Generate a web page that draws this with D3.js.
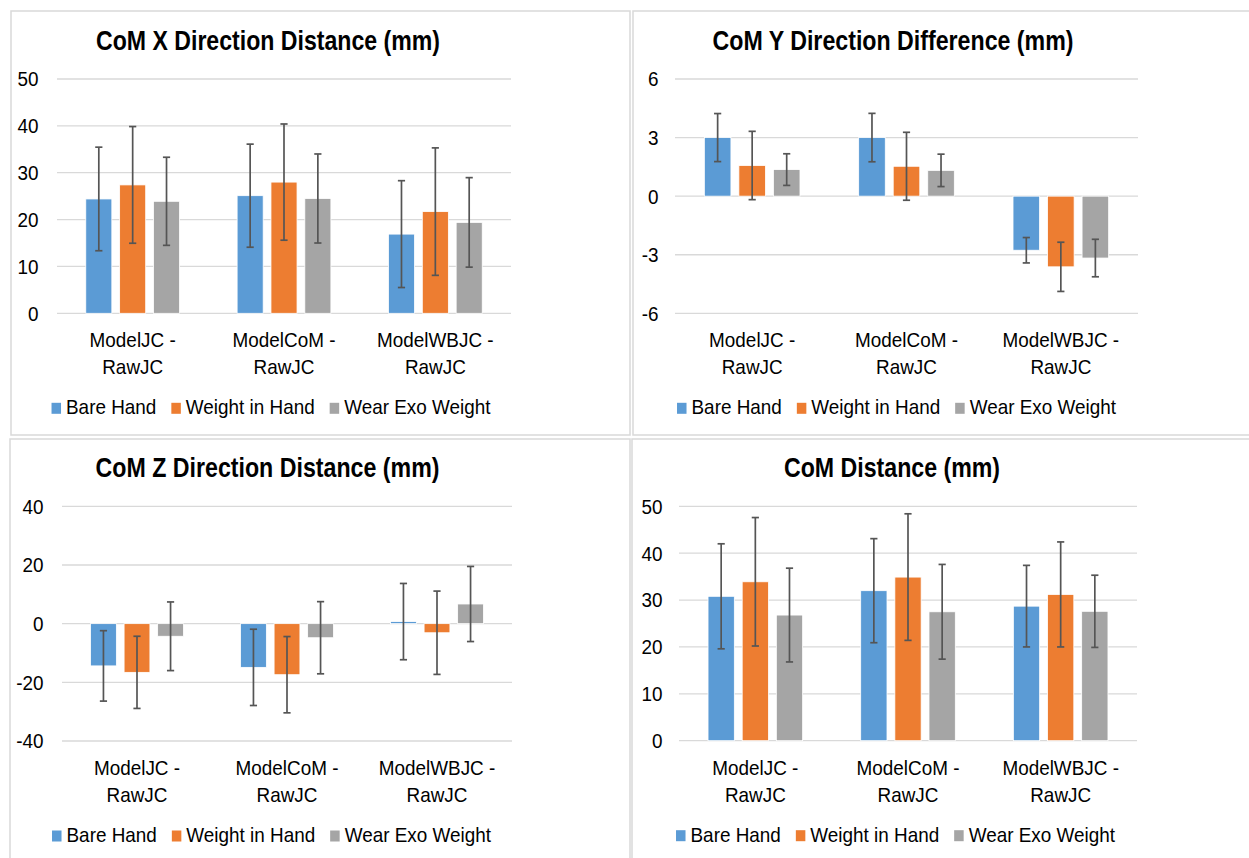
<!DOCTYPE html>
<html>
<head>
<meta charset="utf-8">
<script src="https://cdn.jsdelivr.net/npm/d3@7"></script>
<style>
  body { margin: 0; background: #fff; }
  text { font-family: "Liberation Sans", Arial, sans-serif; }
</style>
</head>
<body>
<svg id="chart" width="1249" height="858"></svg>
<script>
// ---- data ----
const categories = [["ModelJC -", "RawJC"], ["ModelCoM -", "RawJC"], ["ModelWBJC -", "RawJC"]];
const series = ["Bare Hand", "Weight in Hand", "Wear Exo Weight"];
const seriesColors = ["#5B9BD5", "#ED7D31", "#A5A5A5"];

const titles = ["CoM X Direction Distance (mm)", "CoM Y Direction Difference (mm)",
                "CoM Z Direction Distance (mm)", "CoM Distance (mm)"];

// rows = categories, columns = series
const xMeans = [[24.4, 27.4, 23.9], [25.1, 28.0, 24.5], [16.9, 21.7, 19.4]];
const xErrs  = [[11.05, 12.45, 9.4], [11.0, 12.4, 9.5], [11.4, 13.6, 9.55]];
const xTicks = [0, 10, 20, 30, 40, 50];

const yMeans = [[3.0, 1.57, 1.36], [3.0, 1.53, 1.32], [-2.77, -3.62, -3.17]];
const yErrs  = [[1.23, 1.75, 0.81], [1.24, 1.74, 0.83], [0.65, 1.26, 0.96]];
const yTicks = [-6, -3, 0, 3, 6];

const zMeans = [[-14.4, -16.6, -4.3], [-14.9, -17.4, -4.8], [0.7, -3.1, 6.7]];
const zErrs  = [[12.0, 12.3, 11.7], [13.0, 13.0, 12.3], [13.0, 14.2, 12.8]];
const zTicks = [-40, -20, 0, 20, 40];

const dMeans = [[30.8, 33.9, 26.8], [32.0, 34.9, 27.5], [28.7, 31.2, 27.6]];
const dErrs  = [[11.2, 13.7, 10.0], [11.1, 13.5, 10.1], [8.7, 11.2, 7.7]];
const dTicks = [0, 10, 20, 30, 40, 50];

// ---- drawing ----
const svg = d3.select("#chart");
const SX = 0.9;   // the source image is squeezed horizontally
const FS = 21;

function label(g, x, y, str, anchor) {
  return g.append("text")
    .attr("transform", `translate(${x},${y}) scale(${SX},1)`)
    .attr("text-anchor", anchor)
    .attr("font-size", FS)
    .attr("fill", "#000")
    .text(str);
}

function drawPanel(cfg, title, means, errs, ticks) {
  const g = svg.append("g").attr("class", "panel");

  g.append("rect")
    .attr("x", cfg.box[0]).attr("y", cfg.box[1])
    .attr("width", cfg.box[2] - cfg.box[0]).attr("height", cfg.box[3] - cfg.box[1])
    .attr("fill", "#fff").attr("stroke", "#d9d9d9").attr("stroke-width", 1.5);

  g.append("text")
    .attr("x", cfg.titleX).attr("y", cfg.titleY)
    .attr("text-anchor", "middle")
    .attr("font-size", 27).attr("font-weight", "bold")
    .attr("textLength", cfg.titleW).attr("lengthAdjust", "spacingAndGlyphs")
    .text(title);

  const y = d3.scaleLinear().domain(d3.extent(ticks)).range([cfg.y0, cfg.y1]);
  const x = d3.scaleBand().domain(d3.range(categories.length)).range([cfg.x0, cfg.x1]).padding(0);
  const xs = d3.scaleBand().domain(d3.range(series.length))
    .range([0, x.bandwidth()]).paddingInner(0.23).paddingOuter(0.85);

  // gridlines
  g.append("g").selectAll("line").data(ticks).join("line")
    .attr("x1", cfg.x0).attr("x2", cfg.x1)
    .attr("y1", d => y(d)).attr("y2", d => y(d))
    .attr("stroke", "#d9d9d9").attr("stroke-width", 1.3);

  // tick labels
  const tg = g.append("g");
  ticks.forEach(t => label(tg, cfg.tickX, y(t) + 7.4, String(t), "end"));

  // bars
  const flat = [];
  means.forEach((row, ci) => row.forEach((v, si) => flat.push({ ci, si, v, e: errs[ci][si] })));

  g.append("g").selectAll("rect").data(flat).join("rect")
    .attr("x", d => x(d.ci) + xs(d.si))
    .attr("width", xs.bandwidth())
    .attr("y", d => Math.min(y(d.v), y(0)))
    .attr("height", d => Math.max(Math.abs(y(d.v) - y(0)), 1))
    .attr("fill", d => seriesColors[d.si])
    .attr("stroke", "#fff").attr("stroke-width", 0.8);

  // error bars
  const eg = g.append("g").attr("stroke", "#555").attr("stroke-width", 1.7);
  flat.forEach(d => {
    const cx = x(d.ci) + xs(d.si) + xs.bandwidth() / 2;
    const top = y(d.v + d.e), bot = y(d.v - d.e);
    eg.append("line").attr("x1", cx).attr("x2", cx).attr("y1", top).attr("y2", bot);
    eg.append("line").attr("x1", cx - 3.6).attr("x2", cx + 3.6).attr("y1", top).attr("y2", top);
    eg.append("line").attr("x1", cx - 3.6).attr("x2", cx + 3.6).attr("y1", bot).attr("y2", bot);
  });

  // category labels
  const cg = g.append("g");
  categories.forEach((lines, ci) => {
    const cx = x(ci) + x.bandwidth() / 2;
    lines.forEach((ln, li) => label(cg, cx, cfg.y0 + 34 + li * 27, ln, "middle"));
  });

  // legend
  const lg = g.append("g");
  const ly = cfg.y0 + 101;
  const items = series.map((s, i) => {
    const r = lg.append("rect").attr("y", ly - 11.5).attr("width", 9.5).attr("height", 11)
      .attr("fill", seriesColors[i]);
    const t = label(lg, 0, ly, s, "start");
    const w = t.node().getComputedTextLength() * SX;
    return { r, t, w };
  });
  const total = items.reduce((a, it) => a + 14.5 + it.w, 0) + 15 * (items.length - 1);
  let lx = cfg.legendX - total / 2;
  items.forEach(it => {
    it.r.attr("x", lx);
    it.t.attr("transform", `translate(${lx + 14.5},${ly}) scale(${SX},1)`);
    lx += 14.5 + it.w + 15;
  });
}

const panels = [
  { box: [11, 11, 630, 435], titleX: 268, titleY: 50, titleW: 344, tickX: 38.5,
    x0: 57, x1: 511, y0: 313.3, y1: 79, legendX: 271 },
  { box: [633, 11, 1252, 435], titleX: 893, titleY: 50, titleW: 361, tickX: 658.5,
    x0: 675, x1: 1138, y0: 313.3, y1: 79, legendX: 896.5 },
  { box: [10, 439, 630, 862], titleX: 267.5, titleY: 476.5, titleW: 344, tickX: 43.5,
    x0: 62, x1: 512, y0: 741, y1: 506.3, legendX: 271.5 },
  { box: [632, 439, 1252, 862], titleX: 892, titleY: 476.5, titleW: 216, tickX: 662.5,
    x0: 679, x1: 1137, y0: 740.7, y1: 506.3, legendX: 895.5 }
];

drawPanel(panels[0], titles[0], xMeans, xErrs, xTicks);
drawPanel(panels[1], titles[1], yMeans, yErrs, yTicks);
drawPanel(panels[2], titles[2], zMeans, zErrs, zTicks);
drawPanel(panels[3], titles[3], dMeans, dErrs, dTicks);
</script>
</body>
</html>
